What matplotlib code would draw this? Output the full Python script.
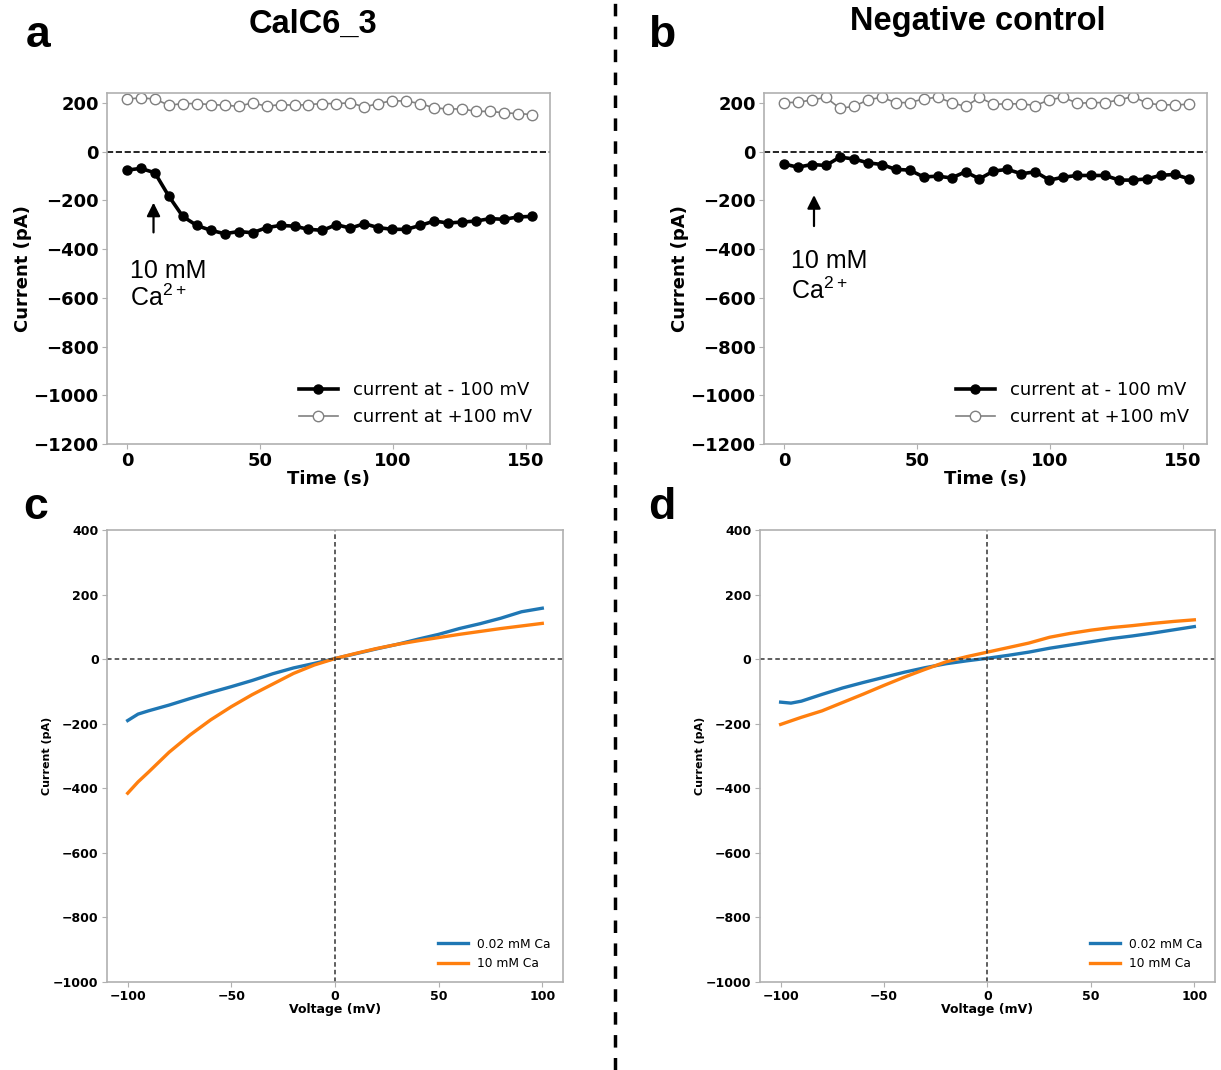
import numpy as np
import matplotlib
matplotlib.use('Agg')
import matplotlib.pyplot as plt
from matplotlib.lines import Line2D

plt.rcParams['mathtext.fontset'] = 'custom'
plt.rcParams['mathtext.rm'] = 'Liberation Sans'

# ── data: current over time (panels a, b) ───────────────────────────────────
time_s = [0, 5.25, 10.5, 15.75, 21.0, 26.25, 31.5, 36.75, 42.0, 47.25,
          52.5, 57.75, 63.0, 68.25, 73.5, 78.75, 84.0, 89.25, 94.5, 99.75,
          105.0, 110.25, 115.5, 120.75, 126.0, 131.25, 136.5, 141.75, 147.0, 152.25]

a_neg100 = [-76, -69, -87, -183, -266, -303, -323, -337, -328, -333,
            -312, -303, -306, -319, -323, -300, -314, -296, -312, -319,
            -319, -303, -285, -293, -289, -285, -275, -278, -268, -266]
a_pos100 = [216, 220, 216, 190, 197, 197, 193, 190, 186, 200,
            186, 193, 190, 193, 197, 197, 200, 183, 197, 209,
            207, 197, 179, 175, 175, 165, 165, 159, 156, 152]

b_neg100 = [-51, -64, -53, -57, -23, -30, -46, -53, -73, -76,
            -104, -101, -108, -83, -112, -80, -73, -91, -83, -117,
            -105, -98, -98, -98, -117, -117, -112, -97, -94, -112]
b_pos100 = [201, 202, 212, 222, 178, 185, 212, 223, 201, 201,
            216, 223, 201, 185, 222, 194, 196, 196, 189, 212,
            223, 198, 201, 201, 212, 226, 198, 192, 192, 194]

# ── data: I-V curves (panels c, d) ───────────────────────────────────────────
voltage = [-100, -95, -90, -80, -70, -60, -50, -40, -30, -20, -10,
           0, 10, 20, 30, 40, 50, 60, 70, 80, 90, 100]

c_low = [-190, -170, -160, -142, -122, -103, -85, -66, -45, -27, -13,
         2, 17, 32, 46, 62, 77, 95, 110, 127, 147, 158]
c_high = [-415, -380, -350, -288, -235, -188, -147, -110, -77, -44, -18,
          2, 18, 33, 46, 57, 67, 77, 86, 95, 103, 111]

d_low = [-133, -136, -130, -109, -89, -72, -56, -40, -26, -14, -5,
         3, 12, 22, 34, 44, 54, 64, 72, 81, 91, 101]
d_high = [-202, -191, -180, -160, -134, -108, -81, -55, -31, -8, 8,
          22, 36, 50, 68, 80, 90, 98, 104, 111, 117, 122]

SPINE = '#b0b0b0'
TITLE_FONT = 'Liberation Sans'

fig = plt.figure(figsize=(12.21, 10.70), dpi=100)

ax_a = fig.add_axes([0.0876, 0.585, 0.3628, 0.328])
ax_b = fig.add_axes([0.6257, 0.585, 0.3628, 0.328])
ax_c = fig.add_axes([0.0876, 0.0822, 0.3735, 0.4224])
ax_d = fig.add_axes([0.6224, 0.0822, 0.3727, 0.4224])


def style_axes(ax, size):
    for sp in ax.spines.values():
        sp.set_color(SPINE)
        sp.set_linewidth(1.2)
    ax.tick_params(colors=SPINE, labelcolor='black', labelsize=size,
                   length=3.5, pad=2.5)
    for lab in ax.get_xticklabels() + ax.get_yticklabels():
        lab.set_fontweight('bold')


def time_panel(ax, neg, pos, arrow_x, arrow_y, txt_x, txt_y):
    ax.plot(time_s, neg, '-o', color='black', lw=2.6, ms=6.5,
            label='current at - 100 mV')
    ax.plot(time_s, pos, '-o', color='gray', lw=1.2, ms=7.5, mfc='white',
            mec='gray', mew=1.0, label='current at +100 mV')
    ax.axhline(0, color='black', ls='--', lw=1.2)
    ax.set_xlim(-7.5, 159)
    ax.set_ylim(-1200, 240)
    ax.set_xticks([0, 50, 100, 150])
    ax.set_yticks(np.arange(-1200, 201, 200))
    style_axes(ax, 13)
    ax.set_xlabel('Time (s)', fontsize=13, fontweight='bold', labelpad=0)
    ax.set_ylabel('Current (pA)', fontsize=13, fontweight='bold', labelpad=1)
    ax.annotate('', xy=(arrow_x, arrow_y[1]), xytext=(arrow_x, arrow_y[0]),
                arrowprops=dict(arrowstyle='-|>', color='black', lw=1.6,
                                mutation_scale=20))
    ax.text(txt_x, txt_y[0], '10 mM', fontsize=18, family=TITLE_FONT,
            ha='left', va='center')
    ax.text(txt_x, txt_y[1], r'Ca$^{2+}$', fontsize=18, family=TITLE_FONT,
            ha='left', va='center')
    ax.legend(loc='lower right', frameon=False, fontsize=13,
              handlelength=2.2, borderaxespad=0.6)


def iv_panel(ax, low, high):
    ax.plot(voltage, low, color='#1f77b4', lw=2.4, label='0.02 mM Ca')
    ax.plot(voltage, high, color='#ff7f0e', lw=2.4, label='10 mM Ca')
    ax.axhline(0, color='#333333', ls=(0, (3, 2)), lw=1.1)
    ax.axvline(0, color='#333333', ls=(0, (3, 2)), lw=1.1)
    ax.set_xlim(-110, 110)
    ax.set_ylim(-1000, 400)
    ax.set_xticks([-100, -50, 0, 50, 100])
    ax.set_yticks(np.arange(-1000, 401, 200))
    style_axes(ax, 9)
    ax.set_xlabel('Voltage (mV)', fontsize=9, fontweight='bold', labelpad=0)
    ax.set_ylabel('Current (pA)', fontsize=8, fontweight='bold', labelpad=1)
    ax.legend(loc='lower right', frameon=False, fontsize=8.8,
              handlelength=2.4, borderaxespad=0.6)


time_panel(ax_a, a_neg100, a_pos100, 10, (-343, -198), 1.1, (-490, -600))
time_panel(ax_b, b_neg100, b_pos100, 11.3, (-317, -167), 2.6, (-450, -570))
iv_panel(ax_c, c_low, c_high)
iv_panel(ax_d, d_low, d_high)

# panel letters and titles
for x, y, s in [(0.031, 0.967, 'a'), (0.542, 0.967, 'b'),
                (0.029, 0.526, 'c'), (0.542, 0.526, 'd')]:
    fig.text(x, y, s, fontsize=32, fontweight='bold', family=TITLE_FONT,
             ha='center', va='center')
fig.text(0.256, 0.977, 'CalC6_3', fontsize=23.5, fontweight='bold',
         family=TITLE_FONT, ha='center', va='center')
fig.text(0.801, 0.980, 'Negative control', fontsize=23.5, fontweight='bold',
         family=TITLE_FONT, ha='center', va='center')

# vertical separator
fig.add_artist(Line2D([0.5037, 0.5037], [0, 1], transform=fig.transFigure,
                      color='black', lw=2.5, dashes=(3.6, 3.0)))

fig.savefig('out.png', dpi=100)
